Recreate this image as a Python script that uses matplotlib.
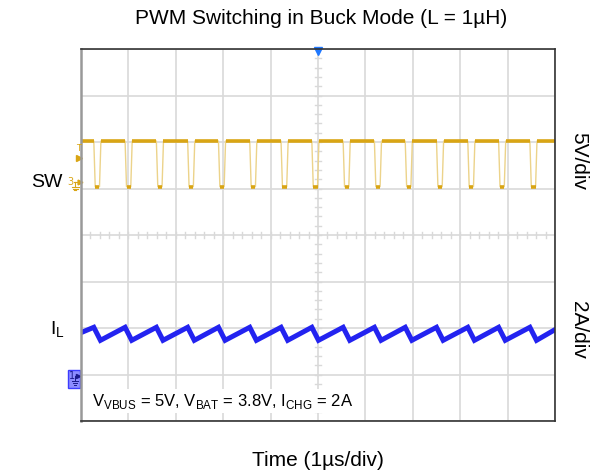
import matplotlib
matplotlib.use("Agg")
import matplotlib.pyplot as plt
import numpy as np

# scope settings (divisions)
n_xdiv = 10
n_ydiv = 8
sw_scale = 5.0      # V/div
sw_offset = 5.0     # ground position of SW, div
il_scale = 2.0      # A/div
il_offset = 1.0     # ground position of I_L, div

# SW switching edges (us)
sw_fall = [0.27, 0.93, 1.59, 2.25, 2.90, 3.56, 4.22, 4.87, 5.53, 6.19, 6.84, 7.50, 8.16, 8.81, 9.47]
sw_rise = [0.39, 1.05, 1.71, 2.37, 3.02, 3.68, 4.34, 4.99, 5.65, 6.31, 6.96, 7.62, 8.28, 8.93, 9.59]
sw_high = 5.1   # V
sw_low = 0.2    # V

# inductor current corners (A)
il_start = 1.80
il_peak = 2.03
il_valley = 1.47
il_end = 1.93

sw_color = '#d9a514'
sw_light = '#ecd38a'
il_color = '#2323f0'
grid_color = '#d9d9d9'
edge = 0.03

fig = plt.figure(figsize=(5.92, 4.76), dpi=100)
ax = fig.add_axes([81/592, 1-421/476, 474/592, 372/476])
ax.set_xlim(0, n_xdiv)
ax.set_ylim(0, n_ydiv)
ax.set_xticks(np.arange(0, n_xdiv + 1))
ax.set_yticks(np.arange(0, n_ydiv + 1))
ax.tick_params(length=0, labelbottom=False, labelleft=False)
ax.grid(True, color=grid_color, linewidth=1.2)
ax.set_axisbelow(True)
for s in ['top', 'right', 'bottom']:
    ax.spines[s].set_color('#333333')
    ax.spines[s].set_linewidth(1.2)
ax.spines['left'].set_color('#999999')
ax.spines['left'].set_linewidth(1.8)

# center cross minor ticks
for yy in np.arange(0, n_ydiv, 0.2):
    ax.plot([4.93, 5.07], [yy, yy], color=grid_color, lw=1)
for xx in np.arange(0, n_xdiv, 0.2):
    ax.plot([xx, xx], [3.93, 4.07], color=grid_color, lw=1)

# SW trace
hi = sw_high / sw_scale + sw_offset
lo = sw_low / sw_scale + sw_offset
tx = [0]
ty = [hi]
for f, r in zip(sw_fall, sw_rise):
    tx += [f, f + edge, r, r + edge]
    ty += [hi, lo, lo, hi]
tx.append(n_xdiv)
ty.append(hi)
ax.plot(tx, ty, color=sw_light, lw=1.0)
starts = [0] + [r + edge for r in sw_rise]
ends = sw_fall + [n_xdiv]
for a, b in zip(starts, ends):
    ax.plot([a, b], [hi, hi], color=sw_color, lw=2.6, solid_capstyle='butt')
for f, r in zip(sw_fall, sw_rise):
    ax.plot([f + edge, r], [lo, lo], color=sw_color, lw=2.6, solid_capstyle='butt')

# inductor current trace
ix = [0]
iy = [il_start]
for f, r in zip(sw_fall, sw_rise):
    ix += [f, r + 0.02]
    iy += [il_peak, il_valley]
ix.append(n_xdiv)
iy.append(il_end)
ax.plot(ix, np.array(iy) / il_scale + il_offset, color=il_color, lw=3.6,
        solid_joinstyle='miter')

# trigger position marker
ax.plot(5, 7.96, marker='v', color='#1f78ff', ms=6, clip_on=False)

# SW markers on left
ax.text(-0.06, 5.86, 'T', color=sw_color, fontsize=6, ha='center', va='center')
ax.plot(-0.04, 5.66, marker='>', color=sw_color, ms=4, clip_on=False)
ax.text(-0.23, 5.14, '3', color=sw_color, fontsize=7, ha='center', va='center')
ax.plot([-0.15, -0.03], [5.14, 5.14], color=sw_color, lw=0.8, clip_on=False)
ax.plot(-0.03, 5.14, marker='>', color=sw_color, ms=3.5, clip_on=False)
ax.plot([-0.12, -0.12], [5.14, 5.03], color=sw_color, lw=0.8, clip_on=False)
for k, w in enumerate([0.08, 0.05, 0.02]):
    ax.plot([-0.12 - w, -0.12 + w], [5.03 - 0.035 * k] * 2, color=sw_color, lw=0.8, clip_on=False)

# channel 1 box
ax.add_patch(plt.Rectangle((-0.27, 0.71), 0.25, 0.39, facecolor='#8c8cff',
                           edgecolor='#3c3cff', lw=1, clip_on=False))
ax.text(-0.2, 0.97, '1', color='#1a1a8c', fontsize=7, ha='center', va='center')
ax.plot(-0.06, 0.97, marker='>', color='#1a1a8c', ms=3, clip_on=False)
ax.plot([-0.13, -0.13], [0.97, 0.85], color='#1a1a8c', lw=0.7, clip_on=False)
for k, w in enumerate([0.07, 0.045, 0.02]):
    ax.plot([-0.13 - w, -0.13 + w], [0.85 - 0.035 * k] * 2, color='#1a1a8c', lw=0.7, clip_on=False)

# labels
font = 'Liberation Sans'
ax.text(-0.38, 5.12, 'SW', fontsize=14, family=font, ha='right', va='center')
ax.text(-0.35, 1.97, r'I$_\mathregular{L}$', fontsize=14, family=font, ha='right', va='center')
ax.text(10.5, 5.59, '5V/div', fontsize=15, family=font, rotation=270, ha='center', va='center')
ax.text(10.5, 1.96, '2A/div', fontsize=15, family=font, rotation=270, ha='center', va='center')
ax.text(0.23, 0.43,
        r'V$_\mathregular{VBUS}$ = 5V, V$_\mathregular{BAT}$ = 3.8V, I$_\mathregular{CHG}$ = 2A',
        fontsize=12, family=font, ha='left', va='center',
        bbox=dict(facecolor='white', edgecolor='none', pad=2))
fig.text(321/592, 1-19/476, 'PWM Switching in Buck Mode (L = 1µH)', fontsize=15,
         family=font, ha='center', va='center')
fig.text(318/592, 1-460/476, 'Time (1µs/div)', fontsize=15, family=font,
         ha='center', va='center')

fig.savefig('out.png', dpi=100)
